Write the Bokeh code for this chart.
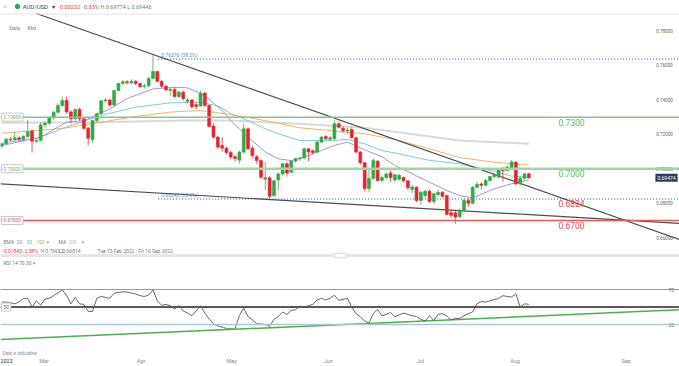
from math import nan
from bokeh.plotting import figure
from bokeh.models import Range1d, Label, Span, ColumnDataSource
from bokeh.embed import file_html
from bokeh.resources import INLINE
from bokeh.core.properties import value

# ---------------- data (AUD/USD daily, 15 Feb 2022 -> 4 Aug 2022) ----------------
opens = [
    0.71317, 0.7145, 0.7172, 0.7168, 0.7180, 0.7170, 0.7188, 0.7220, 0.7160, 0.7165,
    0.7255, 0.7265, 0.7295, 0.7328, 0.7368, 0.7397, 0.7330, 0.7290, 0.7345, 0.7290,
    0.7235, 0.7170, 0.7280, 0.7320, 0.7395, 0.7400, 0.7370, 0.7455, 0.7495, 0.7505,
    0.7500, 0.7508, 0.7495, 0.7478, 0.7482, 0.7525, 0.7565, 0.7508, 0.7480, 0.7455,
    0.7460, 0.7420, 0.7445, 0.7392, 0.7400, 0.7372, 0.7365, 0.7440, 0.7368, 0.7248,
    0.7184, 0.7135, 0.7120, 0.7095, 0.7070, 0.7050, 0.7097, 0.7232, 0.7120, 0.7070,
    0.7048, 0.6940, 0.6948, 0.6845, 0.6935, 0.6970, 0.7029, 0.6980, 0.7045, 0.7058,
    0.7062, 0.7116, 0.7105, 0.7097, 0.7155, 0.7188, 0.7172, 0.7175, 0.7262, 0.7235,
    0.7220, 0.7228, 0.7180, 0.7097, 0.7035, 0.6885, 0.6945, 0.7044, 0.6932, 0.6950,
    0.6975, 0.6935, 0.6940, 0.6950, 0.6930, 0.6880, 0.6893, 0.6816, 0.6845, 0.6870,
    0.6810, 0.6850, 0.6864, 0.6845, 0.6745, 0.6745, 0.6722, 0.6760, 0.6816, 0.6800,
    0.6893, 0.6912, 0.6905, 0.6932, 0.6955, 0.6952, 0.7003, 0.6990, 0.7005, 0.7038,
    0.6913, 0.6945, 0.69706]
highs = [
    0.7150, 0.7180, 0.7185, 0.7215, 0.7190, 0.7195, 0.7285, 0.7225, 0.7175, 0.7270,
    0.7275, 0.7305, 0.7335, 0.7380, 0.7418, 0.7420, 0.7340, 0.7350, 0.7355, 0.7295,
    0.7245, 0.7285, 0.7325, 0.7400, 0.7410, 0.7405, 0.7460, 0.7500, 0.7515, 0.7515,
    0.7520, 0.7515, 0.7500, 0.7495, 0.7535, 0.76612, 0.7570, 0.7515, 0.7490, 0.7470,
    0.7475, 0.7455, 0.7455, 0.7410, 0.7405, 0.7385, 0.7455, 0.7445, 0.7375, 0.7265,
    0.7190, 0.7184, 0.7130, 0.7105, 0.7080, 0.7105, 0.7262, 0.7240, 0.7135, 0.7080,
    0.7055, 0.7040, 0.6955, 0.6935, 0.6980, 0.7035, 0.7040, 0.7050, 0.7065, 0.7070,
    0.7125, 0.7120, 0.7112, 0.7160, 0.7190, 0.7195, 0.7190, 0.7280, 0.7270, 0.7245,
    0.7238, 0.7240, 0.7185, 0.7105, 0.7040, 0.6995, 0.7060, 0.7050, 0.6960, 0.6975,
    0.6990, 0.6970, 0.6970, 0.6955, 0.6935, 0.6905, 0.6898, 0.6870, 0.6878, 0.6880,
    0.6860, 0.6880, 0.6870, 0.6850, 0.6760, 0.6755, 0.6770, 0.6825, 0.6830, 0.6900,
    0.6925, 0.6920, 0.6940, 0.6960, 0.6975, 0.7005, 0.7010, 0.7020, 0.7050, 0.7045,
    0.6955, 0.6975, 0.69774]
lows = [
    0.7120, 0.7140, 0.7160, 0.7160, 0.7160, 0.7160, 0.7180, 0.7095, 0.7150, 0.7160,
    0.7240, 0.7255, 0.7285, 0.7320, 0.7360, 0.7320, 0.7265, 0.7280, 0.7280, 0.7225,
    0.7135, 0.7150, 0.7270, 0.7315, 0.7385, 0.7360, 0.7365, 0.7450, 0.7485, 0.7490,
    0.7490, 0.7485, 0.7470, 0.7465, 0.7475, 0.7520, 0.7500, 0.7470, 0.7450, 0.7420,
    0.7410, 0.7410, 0.7395, 0.7380, 0.7350, 0.7345, 0.7360, 0.7360, 0.7240, 0.7175,
    0.7115, 0.7100, 0.7085, 0.7055, 0.7040, 0.7030, 0.7090, 0.7110, 0.7060, 0.7030,
    0.6940, 0.6875, 0.6828, 0.6835, 0.6875, 0.6960, 0.6955, 0.6975, 0.7035, 0.7045,
    0.7055, 0.7045, 0.7085, 0.7090, 0.7150, 0.7165, 0.7160, 0.7165, 0.7235, 0.7210,
    0.7200, 0.7175, 0.7090, 0.7025, 0.6870, 0.6865, 0.6935, 0.6925, 0.6920, 0.6940,
    0.6925, 0.6925, 0.6930, 0.6920, 0.6875, 0.6860, 0.6805, 0.6790, 0.6830, 0.6800,
    0.6795, 0.6840, 0.6830, 0.6730, 0.6715, 0.66814, 0.6712, 0.6750, 0.6780, 0.6795,
    0.6885, 0.6880, 0.6895, 0.6925, 0.6945, 0.6945, 0.6925, 0.6985, 0.7000, 0.6905,
    0.6905, 0.6935, 0.69446]
closes = [
    0.7145, 0.7172, 0.7168, 0.7180, 0.7170, 0.7188, 0.7215, 0.7160, 0.7165, 0.7255,
    0.7265, 0.7295, 0.7328, 0.7368, 0.7397, 0.7330, 0.7290, 0.7345, 0.7290, 0.7235,
    0.7177, 0.7280, 0.7320, 0.7395, 0.7400, 0.7370, 0.7455, 0.7495, 0.7505, 0.7500,
    0.7508, 0.7495, 0.7478, 0.7482, 0.7525, 0.7565, 0.7508, 0.7480, 0.7458, 0.7460,
    0.7420, 0.7445, 0.7408, 0.7400, 0.7360, 0.7362, 0.7440, 0.7368, 0.7245, 0.7184,
    0.7126, 0.7120, 0.7095, 0.7068, 0.7060, 0.7097, 0.7232, 0.7116, 0.7077, 0.7048,
    0.6951, 0.6948, 0.6840, 0.6930, 0.6970, 0.7029, 0.6975, 0.7045, 0.7058, 0.7062,
    0.7116, 0.7098, 0.7095, 0.7155, 0.7184, 0.7175, 0.7180, 0.7262, 0.7242, 0.7222,
    0.7225, 0.7180, 0.7097, 0.7035, 0.6885, 0.6945, 0.7048, 0.6932, 0.6950, 0.6970,
    0.6950, 0.6965, 0.6962, 0.6930, 0.6890, 0.6895, 0.6816, 0.6864, 0.6870, 0.6810,
    0.6855, 0.6864, 0.6840, 0.6735, 0.6730, 0.6720, 0.6760, 0.6816, 0.6800, 0.6893,
    0.6910, 0.6905, 0.6932, 0.6955, 0.6965, 0.7000, 0.6990, 0.7010, 0.7040, 0.6913,
    0.6945, 0.69706, 0.69474]

# moving averages, read at selected candle indices
ema20_idx = [0, 9, 15, 19, 25, 29, 35, 40, 43, 47, 51, 53, 57, 61, 64, 67, 70, 73, 77, 80,
             84, 88, 91, 95, 99, 103, 106, 109, 114, 118, 122]
ema20 = [0.7135, 0.7184, 0.7271, 0.7280, 0.7348, 0.7408, 0.7464, 0.7474, 0.7470, 0.7426,
         0.7339, 0.7280, 0.7184, 0.7097, 0.7058, 0.7048, 0.7068, 0.7097, 0.7136, 0.7155,
         0.7110, 0.7070, 0.7019, 0.6971, 0.6922, 0.6874, 0.6845, 0.6831, 0.6884, 0.6913, 0.6936]
ema50_idx = [0, 8, 15, 23, 31, 39, 46, 50, 53, 57, 61, 65, 69, 76, 80, 84, 88, 92, 99, 106,
             114, 118, 122]
ema50 = [0.7150, 0.7176, 0.7242, 0.7310, 0.7358, 0.7383, 0.7387, 0.7365, 0.7321, 0.7280,
         0.7232, 0.7195, 0.7164, 0.7164, 0.7170, 0.7145, 0.7106, 0.7087, 0.7049, 0.7029,
         0.6985, 0.6958, 0.6950]
ema100_idx = [0, 8, 15, 23, 31, 39, 46, 53, 61, 69, 76, 84, 92, 99, 106, 114, 122]
ema100 = [0.7207, 0.7222, 0.7238, 0.7271, 0.7304, 0.7329, 0.7339, 0.7315, 0.7280, 0.7238,
          0.7222, 0.7203, 0.7164, 0.7116, 0.7065, 0.7038, 0.7022]
ma200_idx = [0, 22, 43, 53, 69, 84, 106, 122]
ma200 = [0.7268, 0.7271, 0.7280, 0.7280, 0.7261, 0.7238, 0.7164, 0.7145]

rsi = [
    55.5, 55.6, 55.0, 53.6, 56.0, 59.4, 60.0, 50.0, 57.0, 52.0,
    59.0, 60.0, 63.0, 66.0, 69.6, 63.0, 53.6, 61.0, 53.6, 53.0,
    45.0, 45.0, 60.0, 62.0, 61.0, 60.0, 65.8, 66.5, 67.5, 67.0,
    66.0, 65.0, 63.0, 62.0, 63.6, 69.6, 57.0, 52.0, 53.0, 51.5,
    47.6, 51.5, 45.6, 43.0, 40.0, 45.6, 51.5, 43.0, 36.5, 30.8,
    28.3, 27.0, 25.5, 25.5, 25.5, 40.0, 48.7, 39.0, 35.4, 31.0,
    30.5, 30.0, 28.0, 36.0, 39.0, 44.4, 41.5, 46.0, 47.0, 51.0,
    50.0, 51.5, 53.0, 58.0, 60.0, 58.0, 60.0, 63.5, 57.6, 58.6,
    60.0, 50.0, 42.4, 39.0, 34.0, 31.6, 42.4, 47.0, 40.0, 41.5,
    43.7, 39.0, 41.0, 43.0, 41.5, 40.0, 39.0, 36.0, 34.0, 40.0,
    34.4, 41.5, 42.4, 39.6, 35.0, 37.0, 37.0, 40.0, 42.4, 44.4,
    53.6, 56.2, 55.6, 57.0, 58.6, 59.5, 63.0, 62.0, 61.5, 65.0,
    50.0, 53.6, 53.0]

key_levels = [0.7300, 0.7000, 0.6700]
fib_levels = [0.76376, 0.68242]
fib_names = ["0.76376 (38.2%)", "0.68242 (23.6%)"]
fib_start = [36.2, 36.2]
resist_idx = [8.0, 156.9]
resist_px = [0.79019, 0.65894]
support_idx = [-0.3, 156.9]
support_px = [0.69129, 0.66823]
rsi_trend_idx = [-0.3, 156.9]
rsi_trend = [12.9, 46.8]
rsi_levels = [70, 50, 30]
price_ticks = [0.78, 0.76, 0.74, 0.72, 0.70, 0.68, 0.66]
month_labels = ["2022", "Mar", "Apr", "May", "Jun", "Jul", "Aug", "Sep"]
month_pos = [1.1, 9.8, 32.3, 53.2, 75.6, 96.9, 118.8, 144.5]

# ---------------- layout constants ----------------
W, H = 679, 366
PX_PER_CANDLE = 4.32
X0 = -0.3
PX_PER_PRICE = 1722.0
P_TOP = 0.70 + 168.3 / PX_PER_PRICE
PX_PER_RSI = 0.875
R_TOP = 50 + 306.5 / PX_PER_RSI
FONT = "Roboto"

GREEN = "#33a845"
RED = "#e3262e"
GRAY = "#7a7a7a"

p = figure(width=W, height=H, output_backend="svg", toolbar_location=None,
           x_range=Range1d(X0, X0 + W / PX_PER_CANDLE),
           y_range=Range1d(P_TOP - H / PX_PER_PRICE, P_TOP),
           x_axis_location=None, y_axis_location=None,
           min_border=0, outline_line_color=None,
           background_fill_color="white", border_fill_color="white")
p.extra_y_ranges = {"rsi": Range1d(R_TOP - H / PX_PER_RSI, R_TOP), "py": Range1d(H, 0)}
p.extra_x_ranges = {"px": Range1d(0, W)}
p.grid.visible = False


def txt(x, y, s, color=GRAY, size="5.5px", align="left", baseline="middle",
        xr="px", yr="py", style="normal", **kw):
    p.text(x=[x], y=[y], text=[s], text_color=color, text_font=value(FONT),
           text_font_size=size, text_align=align, text_baseline=baseline,
           text_font_style=style, x_range_name=xr, y_range_name=yr, **kw)


# ---------------- price panel ----------------
lvl_styles = [("#86c786", 1.5), ("#9fd59f", 2.5), ("#e8595e", 1.5)]
for lv, (c, w) in zip(key_levels, lvl_styles):
    p.add_layout(Span(location=lv, dimension="width", line_color=c, line_width=w))

p.line(ma200_idx, ma200, line_color="#d9d9d9", line_width=2)
p.line(ema100_idx, ema100, line_color="#f0b46a", line_width=1)
p.line(ema50_idx, ema50, line_color="#7ccbd6", line_width=1)
p.line(ema20_idx, ema20, line_color="#a596d4", line_width=1)

xr_end = p.x_range.end
for lv, st, name in zip(fib_levels, fib_start, fib_names):
    p.segment(x0=[st], y0=[lv], x1=[xr_end], y1=[lv], line_color="#4d8fd9",
              line_width=1.5, line_dash="1 2")
    p.text(x=[st + 0.7], y=[lv], text=[name], text_color="#4d8fd9",
           text_font=value(FONT), text_font_size="5px", text_baseline="bottom",
           y_offset=-1.5)

p.line(resist_idx, resist_px, line_color="#4d4d4d", line_width=1.2)
p.line(support_idx, support_px, line_color="#4d4d4d", line_width=1.2)

idx = list(range(len(closes)))
colors = [GREEN if c >= o else RED for o, c in zip(opens, closes)]
src = ColumnDataSource(dict(
    x=idx, h=highs, l=lows, color=colors,
    top=[max(o, c) for o, c in zip(opens, closes)],
    bottom=[min(o, c) for o, c in zip(opens, closes)]))
p.segment("x", "h", "x", "l", line_color="color", line_width=1, line_alpha=0.75, source=src)
p.vbar(x="x", width=0.68, top="top", bottom="bottom", fill_color="color",
       line_color="color", line_width=0.6, source=src)

lbl_cols = ["#5cb85c", "#5cb85c", "#e8474c"]
for lv, c in zip(key_levels, lbl_cols):
    p.text(x=[558], y=[lv], text=[f"{lv:.4f}"], text_color=c, text_font=value(FONT),
           text_font_size="8.5px", text_baseline="middle", y_offset=5,
           x_range_name="px")
p.text(x=[558], y=[fib_levels[1]], text=[f"{fib_levels[1]:.4f}"], text_color="#e8474c",
       text_font=value(FONT), text_font_size="8.5px", text_baseline="middle", y_offset=4,
       x_range_name="px")

box_cols = ["#76b876", "#76b876", "#e0575c"]
for lv, c in zip(key_levels, box_cols):
    p.add_layout(Label(x=1, y=lv, x_range_name="px", text=f"{lv:.5f}",
                       text_font=FONT, text_font_size="4.8px", text_color=c,
                       text_align="left", text_baseline="middle",
                       background_fill_color="white", border_line_color="#c8c8c8",
                       border_line_width=1, padding=2))

p.text(x=[664] * len(price_ticks), y=price_ticks, text=[f"{t:.5f}" for t in price_ticks],
       text_color="#666666", text_font=value(FONT), text_font_size="4.6px",
       text_align="center", text_baseline="middle", x_range_name="px")

p.add_layout(Label(x=666, y=closes[-1], x_range_name="px", text=f"{closes[-1]:.5f}",
                   text_font=FONT, text_font_size="5px", text_color="white",
                   text_align="center", text_baseline="middle",
                   background_fill_color="#2e3d5c", padding=2))

# ---------------- header ----------------
p.add_layout(Span(location=13.5, dimension="width", y_range_name="py",
                  line_color="#e3e3e3", line_width=1))
chg = closes[-1] - closes[-2]
pct = chg / closes[-2] * 100
txt(3, 6, "≡", color="#8a8a8a", size="7px")
p.scatter(x=[17], y=[6], size=4.5, color="#2ea84a", x_range_name="px", y_range_name="py")
txt(22, 6, "AUD/USD", color="#1c3f78", size="6px")
txt(51, 6, "▾", color="#444444", size="6px")
txt(58, 6, f"{chg:+.5f}".replace("+", ""), color="#e53935", size="5.5px")
txt(82, 6, f"{pct:.2f}%", color="#e53935", size="5.5px")
txt(100, 6, f"H {highs[-1]:.5f} L {lows[-1]:.5f}", color=GRAY, size="5.5px")
txt(9, 27, "Daily", color=GRAY, size="5px")
txt(27, 27, "Mid", color=GRAY, size="5px")

txt(3, 241.5, "EMA", color=GRAY, size="5px")
txt(16, 241.5, "20", color="#9a89cf", size="5px")
txt(26, 241.5, "50", color="#5fbfcc", size="5px")
txt(36, 241.5, "100", color="#eaa44f", size="5px")
txt(46, 241.5, "×", color=GRAY, size="5px")
txt(58, 241.5, "MA", color=GRAY, size="5px")
txt(68, 241.5, "200", color="#c4c4c4", size="5px")
txt(81, 241.5, "×", color=GRAY, size="5px")
rchg = closes[-1] - opens[0]
rpct = rchg / opens[0] * 100
txt(2, 250, f"{rchg:.5f}", color="#e53935", size="5px")
txt(23, 250, f"{rpct:.2f}%", color="#e53935", size="5px")
txt(40, 250, f"H {max(highs):.5f}", color=GRAY, size="5px")
txt(58, 250, f"L {min(lows):.5f}", color=GRAY, size="5px")
txt(97, 250, "Tue 15 Feb 2022 - Fri 16 Sep 2022", color=GRAY, size="5px")

p.quad(left=[0], right=[W], top=[253.6], bottom=[256.4], x_range_name="px",
       y_range_name="py", fill_color="#e6e6e6", line_color=None)
p.quad(left=[334], right=[346], top=[252.8], bottom=[257.2], x_range_name="px",
       y_range_name="py", fill_color="white", line_color="#cfcfcf", line_width=0.8)

# ---------------- RSI panel ----------------
rsi_styles = [("#7f9ec6", 1), ("#5a5a5a", 2), ("#adc6e0", 1.5)]
for lv, (c, w) in zip(rsi_levels, rsi_styles):
    p.add_layout(Span(location=lv, dimension="width", y_range_name="rsi",
                      line_color=c, line_width=w))
p.line(rsi_trend_idx, rsi_trend, y_range_name="rsi", line_color="#4caf50", line_width=1.5)
p.line(idx, rsi, y_range_name="rsi", line_color="#555555", line_width=0.9)
p.line(idx, [v if v < 31 else nan for v in rsi], y_range_name="rsi",
       line_color="#6cc06c", line_width=1)
txt(3, 262.5, "RSI   14   70   30   ×", color=GRAY, size="5px")
p.text(x=[668, 668], y=[70, 30], text=["70", "30"], text_color="#666666",
       text_font=value(FONT), text_font_size="5px", text_baseline="middle",
       x_range_name="px", y_range_name="rsi")
p.add_layout(Label(x=1, y=50, x_range_name="px", y_range_name="rsi", text="50",
                   text_font=FONT, text_font_size="4.8px", text_color="#666666",
                   text_align="left", text_baseline="middle",
                   background_fill_color="white", border_line_color="#c8c8c8",
                   border_line_width=1, padding=2))

# ---------------- bottom ----------------
txt(2, 353, "Data is indicative", color="#8a8a8a", size="4.5px")
p.text(x=month_pos, y=[360] * len(month_pos), text=month_labels,
       text_color=["#333333"] + ["#8a8a8a"] * (len(month_labels) - 1),
       text_font=value(FONT), text_font_size="5.5px", text_align="center",
       text_baseline="middle", y_range_name="py")

open("out.html", "w").write(file_html(p, INLINE))
